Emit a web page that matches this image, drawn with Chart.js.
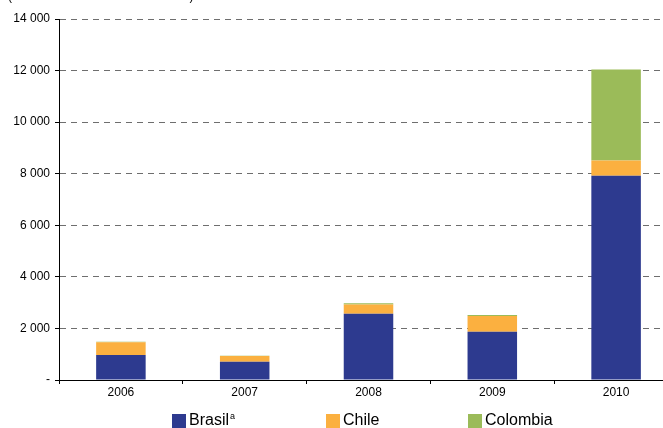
<!DOCTYPE html>
<html>
<head>
<meta charset="utf-8">
<script src="https://cdn.jsdelivr.net/npm/chart.js@4"></script>
<style>
    html, body { margin: 0; padding: 0; overflow: hidden; background: #fff; }
    #wrap { position: relative; width: 663px; height: 428px; overflow: hidden; font-family: "Liberation Sans", Arial, sans-serif; }
    #unit { position: absolute; left: 8px; top: -10px; font-size: 12px; line-height: 12px; white-space: nowrap; color: #000; }
    .sw { position: absolute; top: 414px; width: 14px; height: 14px; }
    .lbl { position: absolute; top: 412px; font-size: 16px; line-height: 16px; color: #000; white-space: nowrap; }
    .lbl sup { font-size: 9px; line-height: 0; vertical-align: baseline; position: relative; top: -6px; margin-left: 1px; }
</style>
</head>
<body>
<div id="wrap">
    <div id="unit">(En millones de dólares corrientes)</div>
    <canvas id="chart" width="680" height="428"></canvas>
    <div id="legend"></div>
</div>
<script>
const years = ["2006", "2007", "2008", "2009", "2010"];
const brasil = [970, 710, 2570, 1870, 7920];
const chile = [490, 220, 360, 610, 590];
const colombia = [20, 15, 50, 40, 3530];

const yMax = 14000;
const yStep = 2000;

const colors = {
    brasil: "#2d3a8f",
    chile: "#fbb040",
    colombia: "#9bbb59",
};

// Legend in HTML so the superscript stays real text
const legendItems = [
    { text: "Brasil<sup>a</sup>", color: colors.brasil, x: 172 },
    { text: "Chile", color: colors.chile, x: 326 },
    { text: "Colombia", color: colors.colombia, x: 468 },
];
const legend = document.getElementById("legend");
legendItems.forEach((item) => {
    const sw = document.createElement("div");
    sw.className = "sw";
    sw.style.left = item.x + "px";
    sw.style.background = item.color;
    legend.appendChild(sw);
    const lbl = document.createElement("div");
    lbl.className = "lbl";
    lbl.style.left = item.x + 17 + "px";
    lbl.innerHTML = item.text;
    legend.appendChild(lbl);
});

function formatTick(value) {
    if (value === 0) return "-";
    return String(value).replace(/\B(?=(\d{3})+(?!\d))/g, " ");
}

const font = { family: "'Liberation Sans', Arial, sans-serif", size: 12 };

new Chart(document.getElementById("chart"), {
    type: "bar",
    data: {
        labels: years,
        datasets: [
            { label: "Brasil", data: brasil, backgroundColor: colors.brasil },
            { label: "Chile", data: chile, backgroundColor: colors.chile },
            { label: "Colombia", data: colombia, backgroundColor: colors.colombia },
        ],
    },
    options: {
        responsive: false,
        animation: false,
        layout: { padding: { top: 19, right: 2, left: 0, bottom: 0 } },
        datasets: {
            bar: { barPercentage: 0.4, categoryPercentage: 1 },
        },
        plugins: {
            legend: { display: false },
            tooltip: { enabled: false },
        },
        scales: {
            x: {
                stacked: true,
                afterFit: (scale) => { scale.height = 48; },
                grid: {
                    offset: true,
                    drawOnChartArea: false,
                    tickLength: 4,
                    color: "#000",
                },
                border: { color: "#000", width: 1 },
                ticks: { color: "#000", font, padding: 1 },
            },
            y: {
                stacked: true,
                min: 0,
                max: yMax,
                afterFit: (scale) => { scale.width = 59; },
                grid: {
                    color: "#6e6e6e",
                    tickColor: "#000",
                    tickLength: 4,
                    tickBorderDash: [],
                },
                border: { color: "#000", width: 1, dash: [6, 5] },
                ticks: {
                    stepSize: yStep,
                    color: "#000",
                    font,
                    padding: 5,
                    callback: (value) => formatTick(value),
                },
            },
        },
    },
});
</script>
</body>
</html>
